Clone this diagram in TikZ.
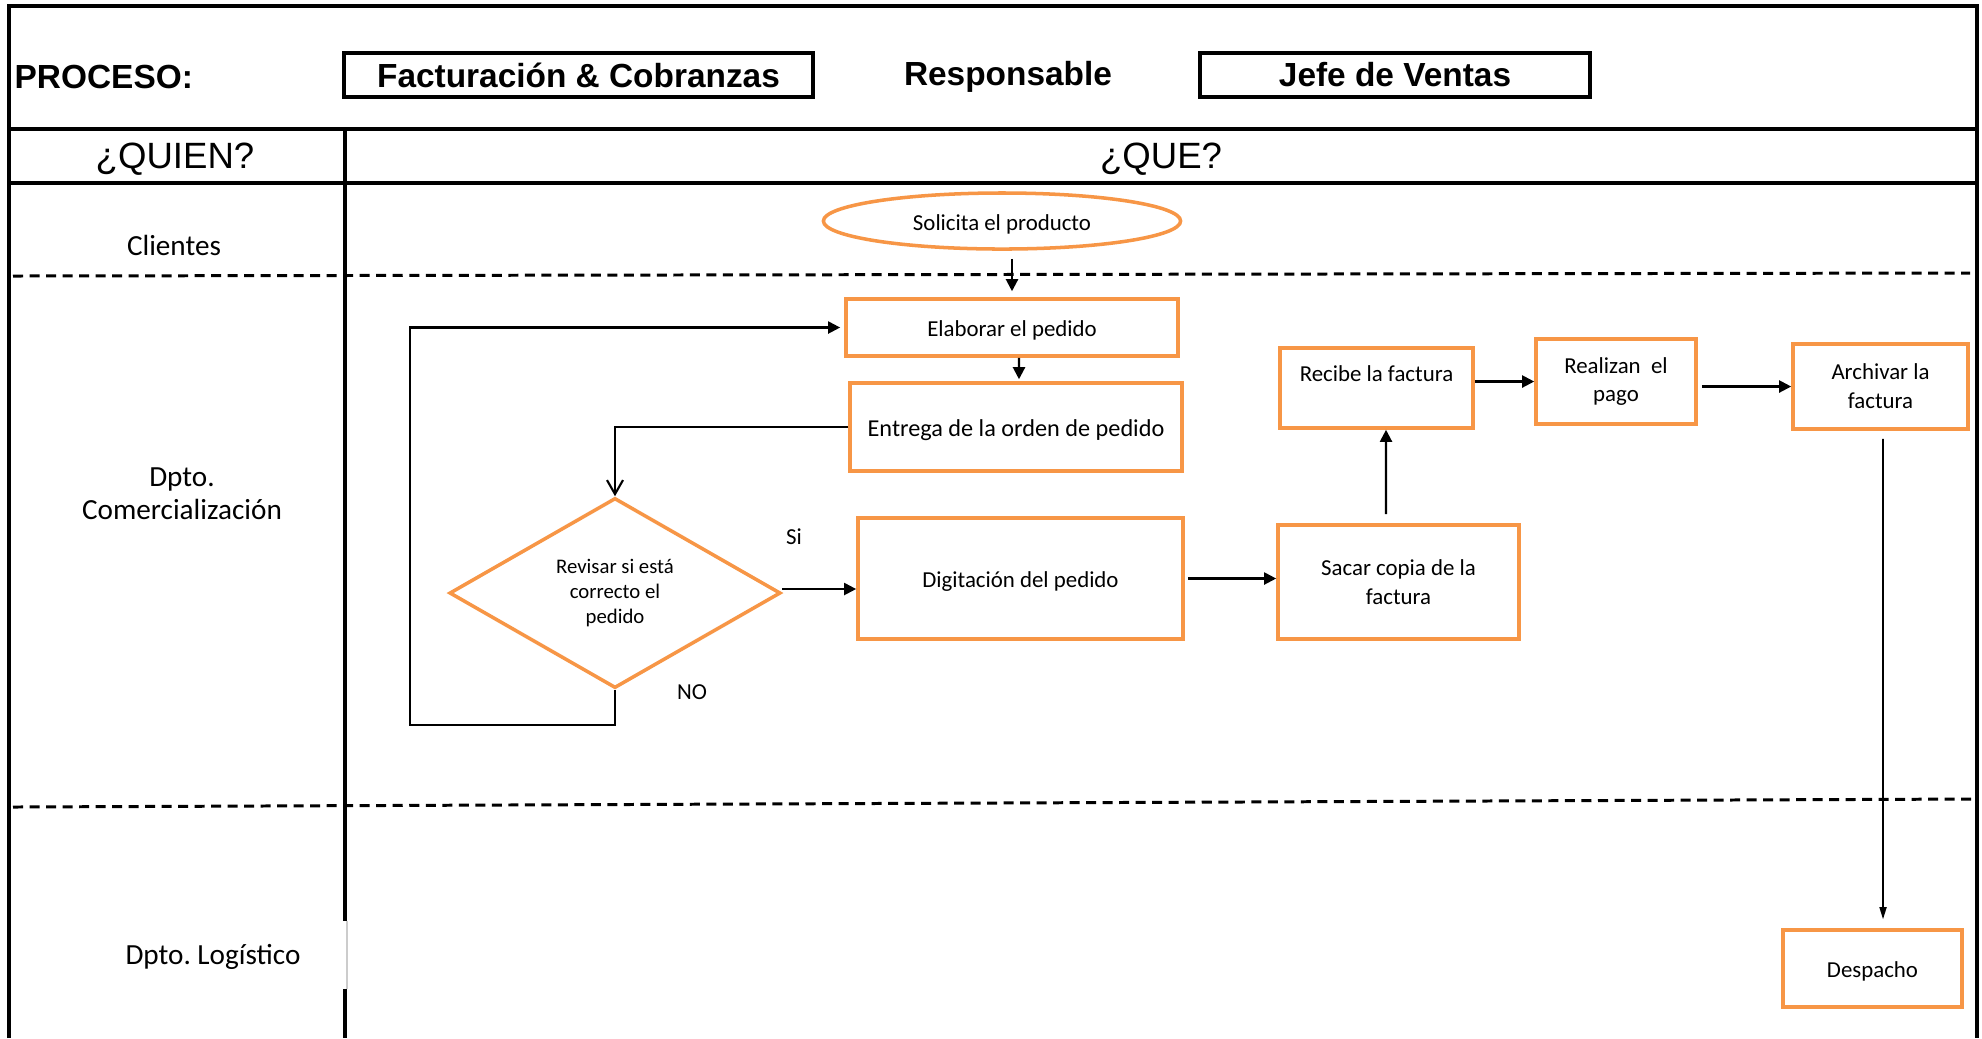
\documentclass[tikz,border=0pt]{standalone}
\usepackage{fontspec}
\setmainfont{Carlito}
\newfontfamily\arialfont{Liberation Sans}
\usetikzlibrary{arrows.meta,shapes.geometric,calc}
\definecolor{boxorange}{RGB}{247,150,70}
\frenchspacing

\begin{document}
\begin{tikzpicture}[x=0.01cm,y=-0.01cm,
  frame/.style={line width=1.3pt},
  lanesep/.style={line width=0.85pt, dash pattern=on 0.1cm off 0.065cm},
  headtext/.style={font=\arialfont\bfseries\fontsize{9.5}{11}\selectfont, inner sep=0pt},
  headbox/.style={draw, line width=1.2pt, inner sep=0pt, font=\arialfont\bfseries\fontsize{9.5}{11}\selectfont},
  coltext/.style={font=\arialfont\fontsize{10.4}{12}\selectfont, inner sep=0pt},
  lanetext/.style={font=\fontsize{8.3}{9.4}\selectfont, align=center, inner sep=0pt},
  stepbox/.style={draw=boxorange, line width=1pt, rectangle, inner sep=0pt, align=center,
    font=\fontsize{6.5}{8.2}\selectfont},
  lowtext/.style={execute at begin node={\rule{0pt}{6.4pt}}},
  smalltext/.style={font=\fontsize{6.5}{8.2}\selectfont, inner sep=0pt},
  conn/.style={line width=0.6pt, -{Triangle[length=0.12cm,width=0.12cm]}},
]
\useasboundingbox (0,0) rectangle (1982,1038);
\fill[white] (0,0) rectangle (1982,1038);

% table frame
\draw[frame] (9,1038) -- (9,6) -- (1977,6) -- (1977,1038);
\draw[frame] (9,129) -- (1977,129);
\draw[frame] (9,183) -- (1977,183);
\draw[line width=1pt] (345,129) -- (345,921);
\draw[line width=1pt] (345,989) -- (345,1038);
\draw[gray!40, line width=0.3pt] (347,921) -- (347,989);

% swimlane separators
\draw[lanesep] (13,276) -- (1970,273);
\draw[lanesep] (13,807) -- (1972,799);

% header
\node[headtext, anchor=west] (proc) at (14,77) {PROCESO:};
\node[headbox, minimum width=4.69cm, minimum height=0.44cm] (procname) at (578.5,75) {Facturación \& Cobranzas};
\node[headtext] (resp) at (1008,77) {Responsable};
\node[headbox, minimum width=3.90cm, minimum height=0.44cm] (respname) at (1395,75) {Jefe de Ventas};
\node[coltext] (quien) at (175,159) {¿QUIEN?};
\node[coltext] (que) at (1161,159) {¿QUE?};

% lane names
\node[lanetext] (clientes) at (174,245) {Clientes};
\node[lanetext] (comer) at (182,494) {Dpto.\\Comercialización};
\node[lanetext] (logis) at (213,957) {Dpto. Logístico};

% process steps
\node[ellipse, draw=boxorange, line width=1pt, minimum width=3.57cm, minimum height=0.56cm,
  inner sep=0pt, font=\fontsize{6.5}{8.2}\selectfont, lowtext] (sol) at (1002,221) {Solicita el producto};
\node[stepbox, lowtext, minimum width=3.32cm, minimum height=0.57cm] (elab) at (1012,327.5) {Elaborar el pedido};
\node[stepbox, lowtext, minimum width=3.32cm, minimum height=0.88cm, font=\fontsize{6.9}{8.5}\selectfont]
  (entr) at (1016,427) {Entrega de la orden de pedido};
\node[diamond, draw=boxorange, line width=1pt, minimum width=3.31cm, minimum height=1.90cm,
  inner sep=0pt, aspect=1.74, align=center, font=\fontsize{5.9}{7.1}\selectfont]
  (rev) at (615,593) {Revisar si está\\correcto el\\pedido};
\node[stepbox, lowtext, minimum width=3.25cm, minimum height=1.21cm] (dig) at (1020.5,578.5) {Digitación del pedido};
\node[stepbox, minimum width=2.41cm, minimum height=1.14cm] (sac) at (1398.5,582) {Sacar copia de la\\factura};
\node[stepbox, minimum width=1.93cm, minimum height=0.80cm] (rec) at (1376.5,388) {Recibe la factura\\\mbox{}};
\node[stepbox, minimum width=1.60cm, minimum height=0.85cm] (real) at (1616,381.5) {Realizan\ \ el\\pago};
\node[stepbox, minimum width=1.75cm, minimum height=0.85cm] (arch) at (1880.5,386.5) {Archivar la\\factura};
\node[stepbox, lowtext, minimum width=1.79cm, minimum height=0.77cm] (desp) at (1872.5,968.5) {Despacho};

% decision labels
\node[smalltext] (si) at (794,537) {Si};
\node[smalltext] (no) at (692,692) {NO};

% connectors
\draw[conn, shorten <=0.08cm, shorten >=0.06cm] (sol.south -| elab.north) -- (elab.north);
\draw[conn, shorten >=0.02cm] ([xshift=0.07cm]elab.south) -- ([xshift=0.03cm]entr.north);
\draw[line width=0.6pt, -{Straight Barb[length=0.14cm,width=0.16cm]}] (entr.west) -| (rev.north);
\draw[conn] ([yshift=0.04cm]rev.east) -- ([yshift=0.04cm]rev.east -| dig.west);
\coordinate (loopbl) at (410,725);
\coordinate (looptl) at (410,327.5);
\draw[conn, shorten >=0.04cm] (rev.south) |- (loopbl) -- (looptl) -- (elab.west);
\draw[conn, shorten <=0.03cm] (dig.east) -- (dig.east -| sac.west);
\draw[conn, shorten <=0.09cm] ([xshift=-0.125cm]sac.north) -- ([xshift=0.095cm]rec.south);
\draw[conn] (rec.east |- real.west) -- (real.west);
\draw[conn, shorten <=0.04cm] (real.east |- arch.west) -- (arch.west);
\draw[line width=0.45pt, -{Triangle[length=0.12cm,width=0.07cm]}, shorten <=0.08cm, shorten >=0.09cm]
  ([xshift=0.025cm]arch.south) -- ([xshift=0.105cm]desp.north);
\end{tikzpicture}
\end{document}
